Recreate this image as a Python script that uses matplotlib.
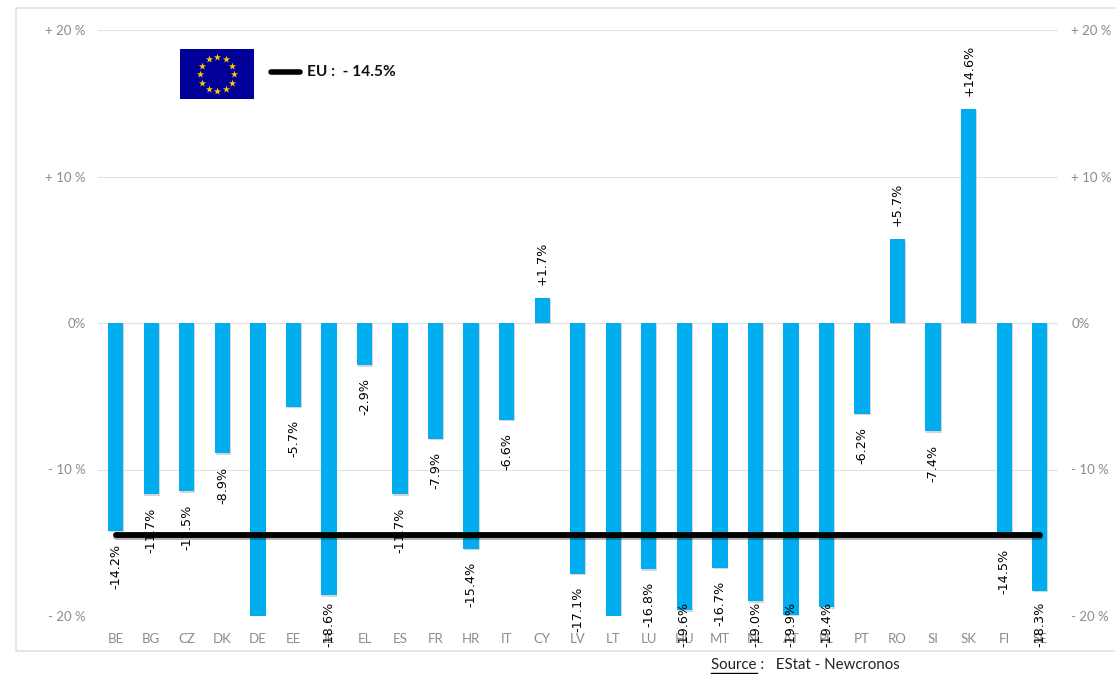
from matplotlib import pyplot as plt
from matplotlib.lines import Line2D
import matplotlib.patheffects as pe
import numpy as np

countries = ['BE', 'BG', 'CZ', 'DK', 'DE', 'EE', 'IE', 'EL', 'ES', 'FR', 'HR', 'IT', 'CY', 'LV',
             'LT', 'LU', 'HU', 'MT', 'NL', 'AT', 'PL', 'PT', 'RO', 'SI', 'SK', 'FI', 'SE']
# DE and LT run off the bottom of the axis, no label is visible for them
change = [-14.2, -11.7, -11.5, -8.9, -21.0, -5.7, -18.6, -2.9, -11.7, -7.9, -15.4, -6.6, 1.7, -17.1,
          -20.8, -16.8, -19.6, -16.7, -19.0, -19.9, -19.4, -6.2, 5.7, -7.4, 14.6, -14.5, -18.3]
eu_average = -14.5
y_ticks = [-20, -10, 0, 10, 20]
y_labels = ['- 20 %', '- 10 %', '0%', '+ 10 %', '+ 20 %']

W, H = 1115, 674
GREY = '#8c8c8c'
PX_PER_UNIT = 586 / 40


def fig_x(px):
    return px / W


def fig_y(px):
    return 1 - px / H


def main():
    plt.rcParams['font.family'] = ['Lato', 'DejaVu Sans']
    fig = plt.figure(figsize=(W / 100, H / 100), dpi=100)

    # frame of the pasted chart, open on the right because it was cropped there
    fig.add_artist(Line2D([fig_x(W), fig_x(16), fig_x(16), fig_x(W)],
                          [fig_y(8), fig_y(8), fig_y(651), fig_y(651)],
                          color='#e0e0e0', linewidth=1.2))

    ax = fig.add_axes([fig_x(98), fig_y(616), 959.5 / W, 586 / H])
    x = np.arange(len(countries))
    shadow = [pe.SimplePatchShadow(offset=(0.6, -1), shadow_rgbFace='#999999', alpha=0.4), pe.Normal()]
    ax.bar(x, change, width=0.43, color='#00AEEF', zorder=2, path_effects=shadow)

    gap = 13 / PX_PER_UNIT
    for i, val in enumerate(change):
        if val < -20:
            continue
        if val > 0:
            ax.text(i, val + gap, f'+{val:.1f}%', rotation=90, ha='center', va='bottom',
                    fontsize=9.2, family='DejaVu Sans', clip_on=False, zorder=4)
        else:
            # the low labels stop moving down near the axis end, like in the original
            ax.text(i, max(val - gap, -19.05), f'{val:.1f}%', rotation=90, ha='center', va='top',
                    fontsize=9.2, family='DejaVu Sans', clip_on=False, zorder=4)

    ax.plot(x, [eu_average] * len(countries), color='black', linewidth=4.2,
            solid_capstyle='round', zorder=5,
            path_effects=[pe.SimpleLineShadow(offset=(0.5, -1), alpha=0.3), pe.Normal()])

    ax.set_xlim(-0.5, len(countries) - 0.5)
    ax.set_ylim(-20, 20)
    ax.set_xticks(x, countries)
    ax.set_yticks(y_ticks, y_labels)
    ax.grid(axis='y', color='#e2e2e2', linewidth=0.8, zorder=0)
    ax.set_axisbelow(True)
    for side in ax.spines:
        ax.spines[side].set_visible(False)
    ax.tick_params(axis='x', length=0, pad=12, labelsize=9.5, labelcolor=GREY)
    ax.tick_params(axis='y', length=0, pad=9, labelsize=9.5, labelcolor=GREY)

    ax2 = ax.twinx()
    ax2.set_ylim(-20, 20)
    ax2.set_yticks(y_ticks, y_labels)
    ax2.tick_params(axis='y', length=0, pad=10, labelsize=9.5, labelcolor=GREY)
    for side in ax2.spines:
        ax2.spines[side].set_visible(False)
    ax2.set_zorder(-1)
    ax.patch.set_visible(False)

    # EU flag
    flag = fig.add_axes([fig_x(180), fig_y(99), 74 / W, 50 / H])
    flag.set_facecolor('#000099')
    flag.set_xlim(-1.48, 1.48)
    flag.set_ylim(-1, 1)
    flag.set_xticks([])
    flag.set_yticks([])
    for side in flag.spines:
        flag.spines[side].set_visible(False)
    angles = np.arange(12) * np.pi / 6
    flag.scatter(0.68 * np.cos(angles), 0.68 * np.sin(angles), marker='*', s=30,
                 color='#FFCC00', linewidths=0)

    # legend line and text
    fig.add_artist(Line2D([fig_x(271), fig_x(300)], [fig_y(72), fig_y(72)], color='black',
                          linewidth=4, solid_capstyle='round'))
    fig.text(fig_x(307), fig_y(72), 'EU :  - 14.5%', fontsize=11.2, fontweight='bold',
             color='#111111', va='center', ha='left')

    # source note
    fig.text(fig_x(711), fig_y(665), 'Source :   EStat - Newcronos', fontsize=10.8,
             color='#222222', va='center', ha='left')
    fig.add_artist(Line2D([fig_x(711), fig_x(757)], [fig_y(673), fig_y(673)], color='black',
                          linewidth=1))

    plt.savefig('out.png', dpi=100)


if __name__ == "__main__":
    main()
